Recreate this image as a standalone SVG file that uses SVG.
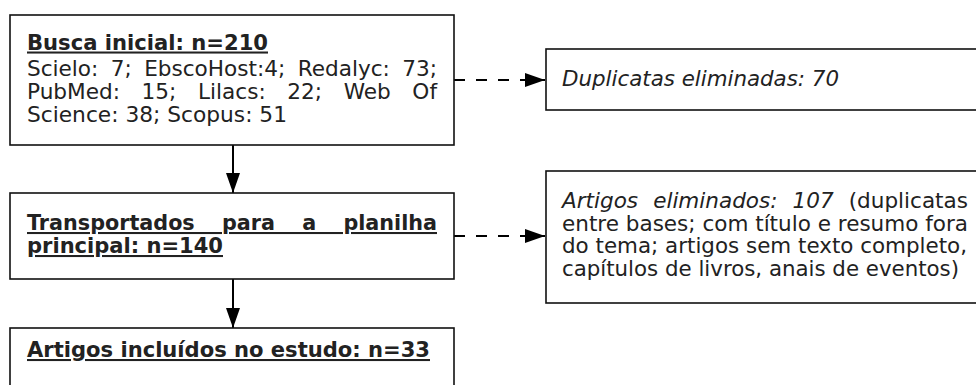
<svg xmlns="http://www.w3.org/2000/svg" width="976" height="385" viewBox="0 0 976 385">
<style>
.box{fill:#fff;stroke:#111;stroke-width:1.6}
.t{font-family:"DejaVu Sans","Verdana",sans-serif;font-size:21px;fill:#222}
.b{font-weight:bold;font-size:20.6px;text-decoration:underline}
.i{font-style:italic}
.conn{stroke:#000;stroke-width:2;fill:none}
.dash{stroke-dasharray:11 11}
</style>
<defs>
<marker id="arrow" viewBox="0 0 20 14" refX="20" refY="7" markerWidth="20" markerHeight="14" markerUnits="userSpaceOnUse" orient="auto">
<path d="M0,0 L20,7 L0,14 z" fill="#000"/>
</marker>
</defs>
<rect width="976" height="385" fill="#fff"/>
<g id="connectors">
<line class="conn" x1="233" y1="145" x2="233" y2="193" marker-end="url(#arrow)"/>
<line class="conn" x1="233" y1="279" x2="233" y2="328" marker-end="url(#arrow)"/>
<line class="conn dash" x1="454" y1="80" x2="545" y2="80" marker-end="url(#arrow)"/>
<line class="conn dash" x1="454" y1="236" x2="545" y2="236" marker-end="url(#arrow)"/>
</g>
<g id="busca-inicial">
<rect class="box" x="10" y="15" width="444" height="130"/>
<text class="t b" x="27" y="49.5" textLength="241" lengthAdjust="spacingAndGlyphs">Busca inicial: n=210</text>
<text class="t" x="27" y="75.5" word-spacing="5.4" textLength="410" lengthAdjust="spacingAndGlyphs">Scielo: 7; EbscoHost:4; Redalyc: 73;</text>
<text class="t" x="27" y="98.5" word-spacing="14.3" textLength="410" lengthAdjust="spacingAndGlyphs">PubMed: 15; Lilacs: 22; Web Of</text>
<text class="t" x="27" y="121.5" textLength="260" lengthAdjust="spacingAndGlyphs">Science: 38; Scopus: 51</text>
</g>
<g id="duplicatas">
<rect class="box" x="546" y="49" width="440" height="61"/>
<text class="t i" x="562" y="86" textLength="277" lengthAdjust="spacingAndGlyphs">Duplicatas eliminadas: 70</text>
</g>
<g id="transportados">
<rect class="box" x="10" y="193" width="444" height="86"/>
<text class="t b" x="27" y="230" word-spacing="19.9" textLength="410" lengthAdjust="spacingAndGlyphs">Transportados para a planilha</text>
<text class="t b" x="27" y="253" textLength="196" lengthAdjust="spacingAndGlyphs">principal: n=140</text>
</g>
<g id="artigos-eliminados">
<rect class="box" x="546" y="171" width="440" height="132"/>
<text class="t" x="562" y="208" word-spacing="8" textLength="406" lengthAdjust="spacingAndGlyphs"><tspan class="i">Artigos eliminados: 107</tspan> (duplicatas</text>
<text class="t" x="562" y="230.5" textLength="406" lengthAdjust="spacingAndGlyphs">entre bases; com título e resumo fora</text>
<text class="t" x="562" y="253" textLength="405" lengthAdjust="spacingAndGlyphs">do tema; artigos sem texto completo,</text>
<text class="t" x="562" y="275.5" textLength="397" lengthAdjust="spacingAndGlyphs">capítulos de livros, anais de eventos)</text>
</g>
<g id="artigos-incluidos">
<rect class="box" x="10" y="328" width="444" height="80"/>
<text class="t b" x="27" y="357" textLength="403" lengthAdjust="spacingAndGlyphs">Artigos incluídos no estudo: n=33</text>
</g>
</svg>
